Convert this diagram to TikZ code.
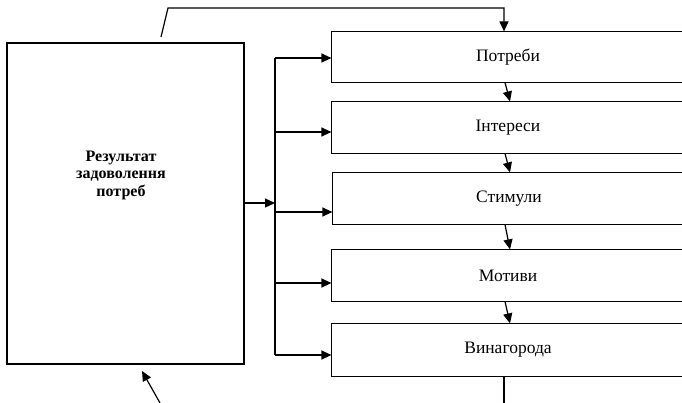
\documentclass[tikz,border=0pt]{standalone}
\usepackage{fontspec}
\setmainfont{Liberation Serif}
\usetikzlibrary{arrows.meta,calc}
\begin{document}
\begin{tikzpicture}[x=1pt,y=-1pt,
  box/.style={line width=1.2pt,minimum width=352pt,inner sep=0pt,font=\fontsize{17.5}{19}\selectfont},
  bigbox/.style={draw,line width=1.2pt,minimum width=237pt,minimum height=321pt,inner sep=0pt},
  frame/.style={draw,line width=1.2pt},
  arr/.style={line width=1.2pt,-{Triangle[length=10pt,width=9pt]}},
  ln/.style={line width=1.2pt}]
\useasboundingbox (0,0) rectangle (682,403);
\clip (0,0) rectangle (682,403);
% left box
\node[bigbox] (res) at (125.5,203.5) {};
\node[font=\bfseries\fontsize{16}{17.5}\selectfont,align=center] (rt) at (121,175) {Результат\\задоволення\\потреб};
% right boxes (they run past the right edge of the picture)
\node[box,minimum height=50pt] (b1) at (508,57) {Потреби};
\node[box,minimum height=51pt] (b2) at (508,127.5) {Інтереси};
\node[box,minimum height=51pt] (b3) at (509,198.5) {Стимули};
\node[box,minimum height=51pt] (b4) at (508,275.5) {Мотиви};
\node[box,minimum height=52pt] (b5) at (508,350) {Винагорода};
\foreach \b in {b1,b2,b3,b4,b5}
  \draw[frame] (\b.north west) rectangle ($(\b.south east)+(30,0)$);
% bus
\coordinate (bt) at (275,58);
\coordinate (bb) at (275,355);
\coordinate (bm) at (275,203);
\draw[ln] (bt) -- (bb);
\draw[arr] (res.east |- bm) -- (bm);
\draw[arr] (bt) -- (b1.west |- bt);
\draw[arr] (275,132) -- (b2.west |- 0,132);
\draw[arr] (275,212) -- (b3.west |- 0,212);
\draw[arr] (275,283) -- (b4.west |- 0,283);
\draw[arr] (bb) -- (b5.west |- bb);
% chain arrows
\draw[arr] ($(b1.south)+(-3,0)$) -- ($(b2.north)+(2,0)$);
\draw[arr] ($(b2.south)+(-3,0)$) -- ($(b3.north)+(1,0)$);
\draw[arr] ($(b3.south)+(-4,0)$) -- ($(b4.north)+(2,0)$);
\draw[arr] ($(b4.south)+(-3,0)$) -- ($(b5.north)+(2,0)$);
% top feedback
\coordinate (fs) at (161,37);
\coordinate (fk) at (168,8);
\coordinate (fe) at ($(b1.north)+(-4,0)$);
\coordinate (fc) at (fe |- fk);
\draw[arr] (fs) -- (fk) -- (fc) -- (fe);
% bottom line out of Винагорода
\coordinate (be) at (504,403);
\draw[ln] (b5.south -| be) -- (be);
% incoming arrow to left box
\coordinate (ia) at (160,403);
\coordinate (ib) at (142,371);
\draw[arr] (ia) -- (ib);
\end{tikzpicture}
\end{document}
